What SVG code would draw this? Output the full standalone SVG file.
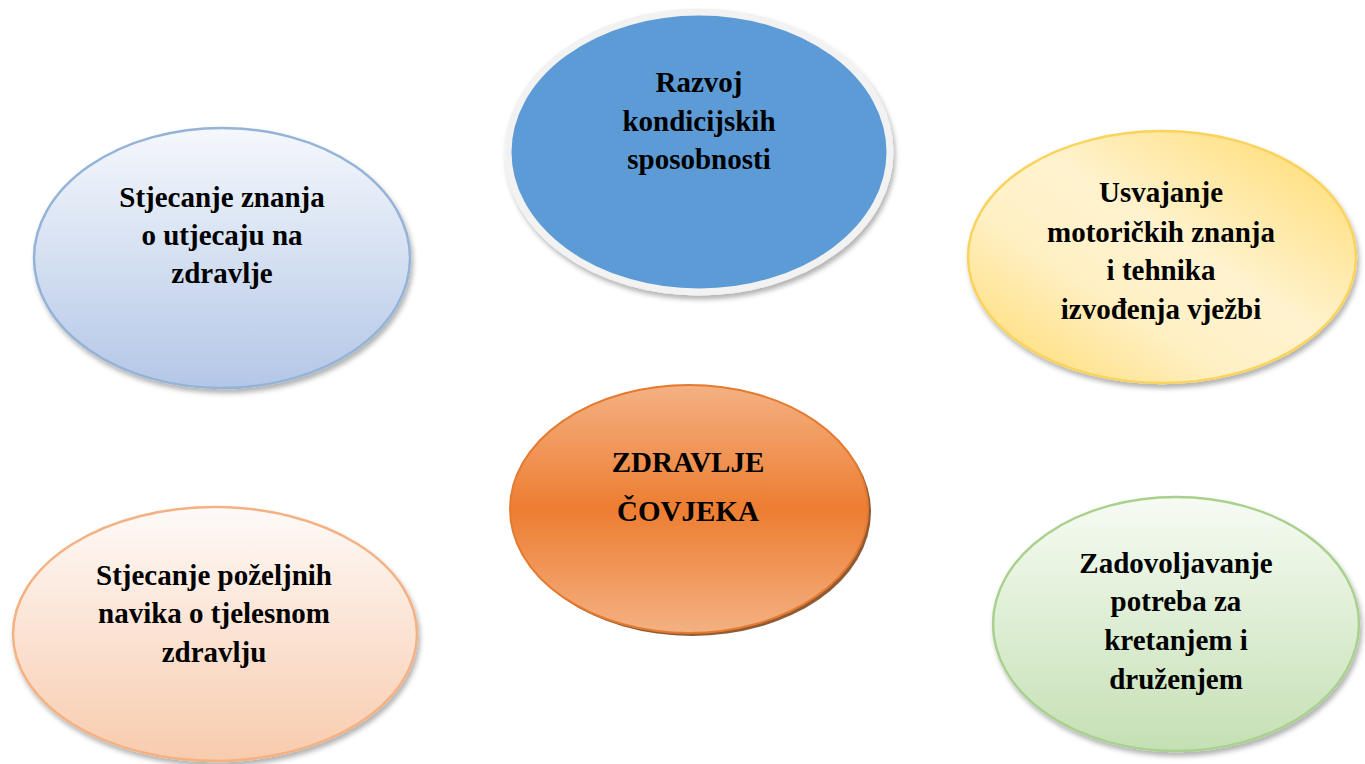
<svg xmlns="http://www.w3.org/2000/svg" width="1365" height="764" viewBox="0 0 1365 764">
<style>
  text { font-family: "Liberation Serif", "Times New Roman", serif; font-weight: bold; font-size: 29px; fill: #000; text-anchor: middle; }
</style>
<defs>
  <filter id="sh" x="-10%" y="-10%" width="125%" height="130%">
    <feDropShadow dx="2" dy="4" stdDeviation="2.5" flood-color="#000" flood-opacity="0.3"/>
  </filter>
  <linearGradient id="gBlue" x1="0" y1="0" x2="0" y2="1">
    <stop offset="0" stop-color="#f5f8fc"/>
    <stop offset="1" stop-color="#b4c7e7"/>
  </linearGradient>
  <linearGradient id="gYellow" x1="1" y1="0" x2="0" y2="1">
    <stop offset="0" stop-color="#ffd966"/>
    <stop offset="0.45" stop-color="#fff3cf"/>
    <stop offset="0.65" stop-color="#fff0c4"/>
    <stop offset="1" stop-color="#ffd966"/>
  </linearGradient>
  <linearGradient id="gOrange" x1="0" y1="0" x2="0" y2="1">
    <stop offset="0" stop-color="#f4b183"/>
    <stop offset="0.5" stop-color="#ed7d31"/>
    <stop offset="1" stop-color="#f4b183"/>
  </linearGradient>
  <linearGradient id="gPeach" x1="0" y1="0" x2="0" y2="1">
    <stop offset="0" stop-color="#fefaf8"/>
    <stop offset="1" stop-color="#f8cbad"/>
  </linearGradient>
  <linearGradient id="gGreen" x1="0" y1="0" x2="0" y2="1">
    <stop offset="0" stop-color="#f6fbf3"/>
    <stop offset="1" stop-color="#c5e0b4"/>
  </linearGradient>
</defs>
<rect width="1365" height="764" fill="#ffffff"/>

<g id="connectors"></g>

<g id="node-znanje">
  <ellipse cx="222" cy="258" rx="188" ry="130" fill="url(#gBlue)" stroke="#95b3d7" stroke-width="2.5" filter="url(#sh)"/>
  <text x="222" y="207">Stjecanje znanja</text>
  <text x="222" y="245">o utjecaju na</text>
  <text x="222" y="283">zdravlje</text>
</g>

<g id="node-razvoj">
  <ellipse cx="699" cy="152" rx="191" ry="140" fill="#5b9bd5" stroke="#f2f2f2" stroke-width="7" filter="url(#sh)"/>
  <text x="699" y="92">Razvoj</text>
  <text x="699" y="131">kondicijskih</text>
  <text x="699" y="169">sposobnosti</text>
</g>

<g id="node-usvajanje">
  <ellipse cx="1162" cy="257" rx="194" ry="126" fill="url(#gYellow)" stroke="#fad35c" stroke-width="2.5" filter="url(#sh)"/>
  <text x="1161" y="202">Usvajanje</text>
  <text x="1161" y="242">motoričkih znanja</text>
  <text x="1161" y="280">i tehnika</text>
  <text x="1161" y="319">izvođenja vježbi</text>
</g>

<g id="node-zdravlje">
  <ellipse cx="692" cy="512" rx="179" ry="124" fill="#7a3e12" opacity="0.85"/>
  <ellipse cx="689" cy="509" rx="179" ry="124" fill="url(#gOrange)" stroke="#e57a2f" stroke-width="2"/>
  <text x="688" y="472">ZDRAVLJE</text>
  <text x="688" y="521">ČOVJEKA</text>
</g>

<g id="node-navike">
  <ellipse cx="215" cy="634" rx="202" ry="127" fill="url(#gPeach)" stroke="#f4b183" stroke-width="2.5" filter="url(#sh)"/>
  <text x="214" y="585">Stjecanje poželjnih</text>
  <text x="214" y="623">navika o tjelesnom</text>
  <text x="214" y="662">zdravlju</text>
</g>

<g id="node-kretanje">
  <ellipse cx="1176" cy="624" rx="183" ry="127" fill="url(#gGreen)" stroke="#a9d18e" stroke-width="2.5" filter="url(#sh)"/>
  <text x="1176" y="573">Zadovoljavanje</text>
  <text x="1176" y="611">potreba za</text>
  <text x="1176" y="650">kretanjem i</text>
  <text x="1176" y="689">druženjem</text>
</g>
</svg>
